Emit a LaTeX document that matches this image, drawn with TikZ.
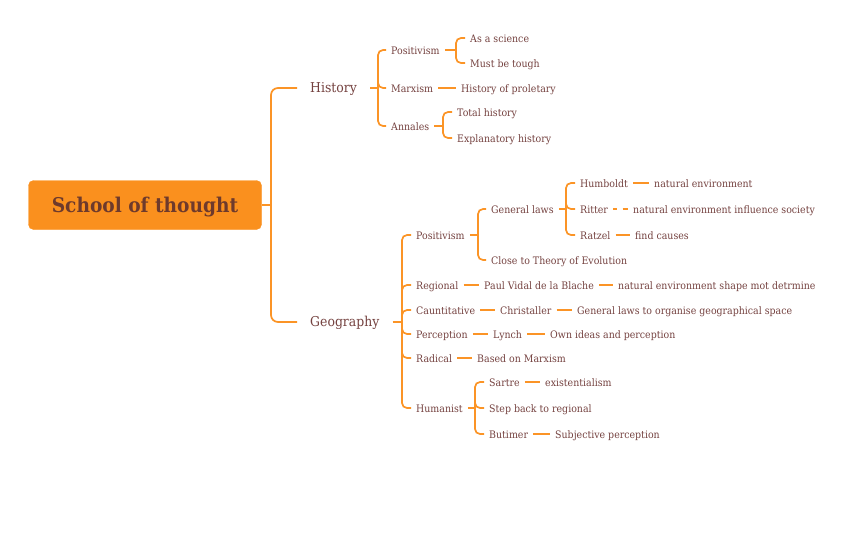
\documentclass[tikz,border=0pt]{standalone}
\usepackage{fontspec}
\setmainfont{DejaVu Serif}[FakeStretch=0.915]
\definecolor{lineor}{HTML}{FB9426}
\definecolor{rootor}{HTML}{FA901E}
\definecolor{txt}{HTML}{74413F}
\definecolor{roottxt}{HTML}{6E3A2C}
\begin{document}
\begin{tikzpicture}[x=1pt,y=-1pt,
  leaf/.style={anchor=west,inner xsep=5pt,inner ysep=1pt,text height=9pt,text depth=1pt,text=txt,font=\fontsize{10.3}{12}\selectfont},
  major/.style={anchor=west,inner xsep=13pt,inner ysep=1pt,text height=12pt,text depth=3.4pt,text=txt,font=\fontsize{13.6}{16}\selectfont},
  rootbox/.style={fill=rootor,draw=rootor,rounded corners=5pt,minimum width=233pt,minimum height=49pt,text height=18pt,text depth=3.4pt,text=roottxt,font=\fontsize{20.3}{24}\bfseries\selectfont},
  conn/.style={draw=lineor,line width=1.7pt,rounded corners=5pt},
  dconn/.style={draw=lineor,line width=1.7pt,dash pattern=on 3.5pt off 6pt on 8pt off 0pt}]
\useasboundingbox (0,0) rectangle (848,544);
% root
\node[rootbox] (root) at (145,205) {School of thought};
\coordinate (j0) at (271,205);
\node[major] (hist) at (297,88) {History};
\node[major] (geo) at (297,322) {Geography};
\draw[conn] (root.east) -- (j0);
\draw[conn,rounded corners=7pt] (j0) |- (hist.west);
\draw[conn,rounded corners=7pt] (j0) |- (geo.west);
% History
\coordinate (jh) at (378,88);
\node[leaf] (hpos) at (386,50) {Positivism};
\node[leaf] (hmarx) at (386,88) {Marxism};
\node[leaf] (hann) at (386,126) {Annales};
\draw[conn] (hist.east) -- (jh);
\draw[conn] (jh) |- (hpos.west);
\draw[conn] (jh) |- (hmarx.west);
\draw[conn] (jh) |- (hann.west);
\coordinate (jhp) at (456,50);
\node[leaf] (sci) at (465,38) {As a science};
\node[leaf] (tough) at (465,63) {Must be tough};
\draw[conn] (hpos.east) -- (jhp);
\draw[conn] (jhp) |- (sci.west);
\draw[conn] (jhp) |- (tough.west);
\node[leaf] (prol) at (456,88) {History of proletary};
\draw[conn] (hmarx.east) -- (prol.west);
\coordinate (jha) at (443,126);
\node[leaf] (total) at (452,112) {Total history};
\node[leaf] (expl) at (452,138) {Explanatory history};
\draw[conn] (hann.east) -- (jha);
\draw[conn] (jha) |- (total.west);
\draw[conn] (jha) |- (expl.west);
% Geography
\coordinate (jg) at (402,322);
\node[leaf] (gpos) at (411,235) {Positivism};
\node[leaf] (greg) at (411,285) {Regional};
\node[leaf] (gcau) at (411,310) {Cauntitative};
\node[leaf] (gper) at (411,334) {Perception};
\node[leaf] (grad) at (411,358) {Radical};
\node[leaf] (ghum) at (411,408) {Humanist};
\draw[conn] (geo.east) -- (jg);
\foreach \n in {gpos,greg,gcau,gper,grad,ghum} \draw[conn] (jg) |- (\n.west);
% Geo positivism
\coordinate (jgp) at (478,235);
\node[leaf] (genlaws) at (486,209) {General laws};
\node[leaf] (evol) at (486,260) {Close to Theory of Evolution};
\draw[conn] (gpos.east) -- (jgp);
\draw[conn] (jgp) |- (genlaws.west);
\draw[conn] (jgp) |- (evol.west);
\coordinate (jgl) at (566,209);
\node[leaf] (humb) at (575,183) {Humboldt};
\node[leaf] (ritt) at (575,209) {Ritter};
\node[leaf] (ratz) at (575,235) {Ratzel};
\draw[conn] (genlaws.east) -- (jgl);
\draw[conn] (jgl) |- (humb.west);
\draw[conn] (jgl) |- (ritt.west);
\draw[conn] (jgl) |- (ratz.west);
\node[leaf] (natenv) at (649,183) {natural environment};
\node[leaf] (natinf) at (628,209) {natural environment influence society};
\node[leaf] (causes) at (630,235) {find causes};
\draw[conn] (humb.east) -- (natenv.west);
\draw[dconn] (ritt.east) -- (natinf.west);
\draw[conn] (ratz.east) -- (causes.west);
% Regional etc.
\node[leaf] (vidal) at (479,285) {Paul Vidal de la Blache};
\node[leaf] (shape) at (613,285) {natural environment shape mot detrmine};
\draw[conn] (greg.east) -- (vidal.west);
\draw[conn] (vidal.east) -- (shape.west);
\node[leaf] (chris) at (495,310) {Christaller};
\node[leaf] (space) at (572,310) {General laws to organise geographical space};
\draw[conn] (gcau.east) -- (chris.west);
\draw[conn] (chris.east) -- (space.west);
\node[leaf] (lynch) at (488,334) {Lynch};
\node[leaf] (ideas) at (545,334) {Own ideas and perception};
\draw[conn] (gper.east) -- (lynch.west);
\draw[conn] (lynch.east) -- (ideas.west);
\node[leaf] (bmarx) at (472,358) {Based on Marxism};
\draw[conn] (grad.east) -- (bmarx.west);
% Humanist
\coordinate (jgh) at (475,408);
\node[leaf] (sartre) at (484,382) {Sartre};
\node[leaf] (step) at (484,408) {Step back to regional};
\node[leaf] (buti) at (484,434) {Butimer};
\draw[conn] (ghum.east) -- (jgh);
\draw[conn] (jgh) |- (sartre.west);
\draw[conn] (jgh) |- (step.west);
\draw[conn] (jgh) |- (buti.west);
\node[leaf] (exist) at (540,382) {existentialism};
\node[leaf] (subj) at (550,434) {Subjective perception};
\draw[conn] (sartre.east) -- (exist.west);
\draw[conn] (buti.east) -- (subj.west);
\end{tikzpicture}
\end{document}
